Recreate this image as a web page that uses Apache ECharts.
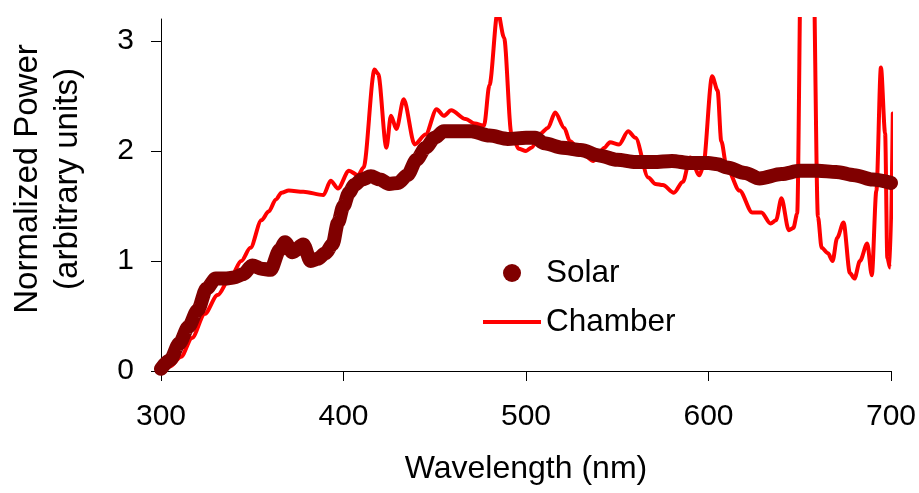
<!DOCTYPE html>
<html>
<head>
<meta charset="utf-8">
<script src="https://cdn.jsdelivr.net/npm/echarts@6/dist/echarts.min.js"></script>
<style>
html,body{margin:0;padding:0;background:#fff;}
#chart{width:919px;height:493px;}
</style>
</head>
<body>
<div id="chart"></div>
<script>
// ---- Data ----
const xTicks = [300, 400, 500, 600, 700];
const yTicks = [0, 1, 2, 3];

const solarWavelength = [300,305,310,315,320,325,330,335,340,345,350,355,360,365,368,372,378,382,386,390,394,397,400,403,406,410,415,420,425,430,435,440,445,450,455,460,470,480,490,500,505,510,520,530,540,550,560,570,580,590,600,605,610,620,628,640,650,660,670,680,690,700];
const solarValues = [0.02,0.10,0.25,0.40,0.55,0.75,0.84,0.84,0.85,0.88,0.96,0.93,0.92,1.10,1.17,1.08,1.15,1.00,1.02,1.07,1.15,1.35,1.50,1.62,1.69,1.74,1.77,1.74,1.70,1.71,1.78,1.92,2.03,2.12,2.18,2.18,2.18,2.14,2.11,2.12,2.12,2.07,2.03,2.01,1.96,1.92,1.90,1.90,1.91,1.89,1.89,1.88,1.85,1.80,1.75,1.79,1.82,1.82,1.81,1.78,1.74,1.71];

const chamberWavelength = [300,305,311,317,324,331,338,344,349,355,359,363,366,370,378,389,393,397,403,408,411,417,419,423.5,426,429,433,439,445,451,455,459,467,472,477,480,484.5,488,492,496,500,503,508,512,516,521,524,530,537,543,546,551,556,560,567,571,575,581,586,590,595,597,602,605,607,610,617,624,629,634,637,640,644,646.5,648.6,651,654,657,660,662,665.5,668,670.5,674,677.5,680,683,687,689.5,692,694.5,696.8,698,699.5,701];
const chamberValues = [0.00,0.04,0.13,0.30,0.52,0.69,0.85,1.00,1.12,1.37,1.45,1.56,1.62,1.64,1.63,1.60,1.73,1.66,1.82,1.78,1.85,2.74,2.70,2.03,2.32,2.20,2.47,2.06,2.15,2.38,2.32,2.37,2.29,2.25,2.23,2.60,3.27,3.03,2.16,2.02,2.00,2.03,2.16,2.21,2.35,2.21,2.09,1.99,1.91,2.03,2.08,2.06,2.18,2.12,1.76,1.70,1.69,1.62,1.72,1.94,1.78,1.85,2.68,2.55,2.09,1.85,1.64,1.44,1.44,1.34,1.37,1.57,1.28,1.30,1.43,4.2,5.5,4.2,1.40,1.12,1.07,1.00,1.21,1.35,0.89,0.84,1.00,1.16,0.87,1.64,2.76,2.16,1.03,0.94,2.34];

const seriesNames = ['Solar', 'Chamber'];
const xAxisTitle = 'Wavelength (nm)';
const yAxisTitle = 'Normalized Power\n(arbitrary units)';

// ---- Build ----
const solarData = solarWavelength.map((w, i) => [w, solarValues[i]]);
const chamberData = chamberWavelength.map((w, i) => [w, chamberValues[i]]);

const FONT = '"Liberation Sans", Arial, sans-serif';
const chart = echarts.init(document.getElementById('chart'), null, {renderer: 'canvas'});
chart.setOption({
  animation: false,
  backgroundColor: '#ffffff',
  textStyle: {fontFamily: FONT},
  grid: {left: 159, right: 28, top: 19, bottom: 122, containLabel: false},
  legend: {
    orient: 'vertical',
    left: 483,
    top: 257,
    padding: 0,
    itemWidth: 58,
    itemHeight: 18,
    itemGap: 17,
    textStyle: {fontSize: 31.5, color: '#000', fontFamily: FONT},
    data: [
      {name: seriesNames[0], icon: 'circle'},
      {name: seriesNames[1], icon: 'path://M0 0H58V4H0Z'}
    ]
  },
  xAxis: {
    type: 'value',
    min: 300, max: 700, interval: 100,
    name: xAxisTitle,
    nameLocation: 'middle',
    nameGap: 82,
    nameTextStyle: {fontSize: 32, color: '#000', fontFamily: FONT},
    axisLine: {show: true, onZero: false, lineStyle: {color: '#000', width: 1}},
    axisTick: {show: true, inside: false, length: 10, lineStyle: {color: '#000', width: 1}},
    axisLabel: {fontSize: 30, color: '#000', margin: 31, fontFamily: FONT},
    splitLine: {show: false}
  },
  yAxis: {
    type: 'value',
    min: 0, max: 3.2, interval: 1,
    name: yAxisTitle,
    nameLocation: 'middle',
    nameRotate: 90,
    nameGap: 73,
    nameTextStyle: {fontSize: 33, color: '#000', lineHeight: 40, fontFamily: FONT, padding: [0, 0, 0, 32]},
    axisLine: {show: true, lineStyle: {color: '#000', width: 1}},
    axisTick: {show: true, inside: false, length: 10, customValues: yTicks, lineStyle: {color: '#000', width: 1}},
    axisLabel: {fontSize: 30, color: '#000', margin: 27, customValues: yTicks, fontFamily: FONT},
    splitLine: {show: false}
  },
  series: [
    {
      name: seriesNames[1],
      type: 'line',
      data: chamberData,
      showSymbol: false,
      symbol: 'none',
      smooth: 0.3,
      smoothMonotone: 'x',
      clip: true,
      color: '#ff0000',
      itemStyle: {color: '#ff0000'},
      lineStyle: {color: '#ff0000', width: 4, cap: 'round', join: 'round'},
      z: 2
    },
    {
      name: seriesNames[0],
      type: 'line',
      data: solarData,
      showSymbol: false,
      symbol: 'none',
      smooth: 0.3,
      smoothMonotone: 'x',
      clip: true,
      color: '#800000',
      itemStyle: {color: '#800000'},
      lineStyle: {color: '#800000', width: 14, cap: 'round', join: 'round'},
      z: 3
    }
  ]
});
</script>
</body>
</html>
